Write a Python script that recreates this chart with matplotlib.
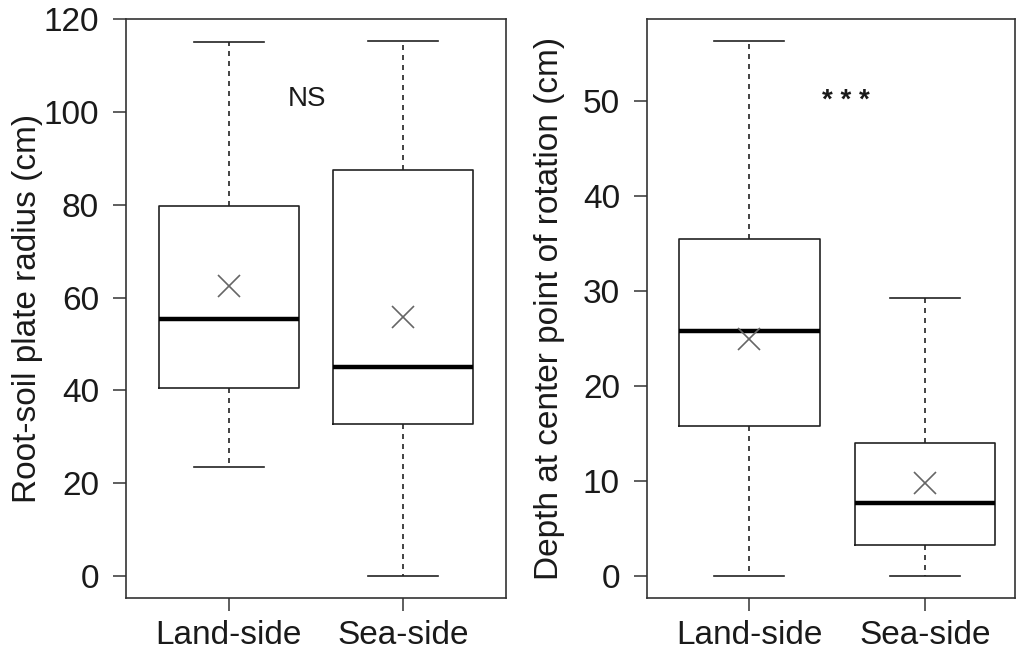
import matplotlib.pyplot as plt

groups = ['Land-side', 'Sea-side']

# left panel: root-soil plate radius (cm)
radius_whislo = [23.5, 0.0]
radius_q1 = [40.6, 32.8]
radius_med = [55.3, 45.1]
radius_q3 = [79.8, 87.5]
radius_whishi = [115.1, 115.2]
radius_mean = [62.6, 55.8]

# right panel: depth at center point of rotation (cm)
depth_whislo = [0.0, 0.0]
depth_q1 = [15.75, 3.25]
depth_med = [25.8, 7.7]
depth_q3 = [35.5, 14.0]
depth_whishi = [56.3, 29.3]
depth_mean = [24.9, 9.75]

plt.rcParams['font.family'] = 'Liberation Sans'
ink = '#1a1a1a'

fig = plt.figure(figsize=(10.16, 6.53), dpi=100)
ax1 = fig.add_axes([126 / 1016, 55 / 653, 380 / 1016, 579 / 653])
ax2 = fig.add_axes([647 / 1016, 55 / 653, 368 / 1016, 579 / 653])


def make_stats(lo, q1, med, q3, hi, mean):
    stats = []
    for i in range(len(groups)):
        stats.append(dict(whislo=lo[i], q1=q1[i], med=med[i], q3=q3[i],
                          whishi=hi[i], mean=mean[i], fliers=[], label=groups[i]))
    return stats


def draw(ax, stats, ylabel, yticks, ylim, xlim):
    ax.bxp(stats, positions=[1, 2], widths=0.8, showmeans=True, showfliers=False,
           boxprops=dict(color='#222222', linewidth=1.2),
           medianprops=dict(color='black', linewidth=3.2),
           whiskerprops=dict(color='#222222', linewidth=1.2, linestyle=(0, (3, 3))),
           capprops=dict(color='#222222', linewidth=1.2),
           capwidths=0.4,
           meanprops=dict(marker='x', markersize=16, markeredgecolor='#666666',
                          markeredgewidth=1.2))
    ax.set_xlim(*xlim)
    ax.set_ylim(*ylim)
    ax.set_yticks(yticks)
    ax.set_xticks([1, 2])
    ax.set_xticklabels(groups)
    ax.tick_params(direction='out', length=9.5, width=1.1, colors='#333333',
                   labelcolor=ink, labelsize=24)
    ax.tick_params(axis='y', pad=10)
    ax.tick_params(axis='x', pad=6)
    for s in ax.spines.values():
        s.set_color('#333333')
        s.set_linewidth(1.2)
    ax.set_ylabel(ylabel, fontsize=24, color=ink, va='center')


draw(ax1, make_stats(radius_whislo, radius_q1, radius_med, radius_q3, radius_whishi, radius_mean),
     'Root-soil plate radius (cm)', range(0, 121, 20), (-4.7, 120.0), (0.414, 2.586))
ax1.yaxis.set_label_coords(-0.26, 0.5)
ax1.text(1.45, 102.8, 'NS', fontsize=20, ha='center', va='center', color=ink)

draw(ax2, make_stats(depth_whislo, depth_q1, depth_med, depth_q3, depth_whishi, depth_mean),
     'Depth at center point of rotation (cm)', range(0, 51, 10), (-2.32, 58.64), (0.416, 2.515))
ax2.yaxis.set_label_coords(-0.266, 0.5)
ax2.text(1.55, 50.0, '* * *', fontsize=20, fontweight='bold', ha='center', va='center', color=ink)

fig.savefig('out.png', dpi=100)
